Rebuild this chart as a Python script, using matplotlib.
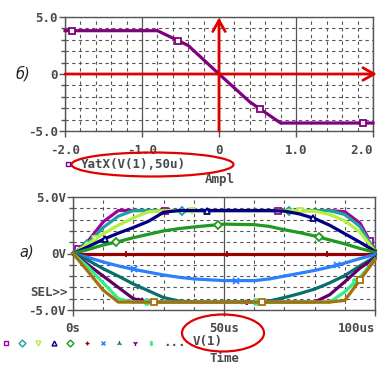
import numpy as np
import matplotlib
matplotlib.use('Agg')
import matplotlib.pyplot as plt
from matplotlib.patches import Ellipse
from matplotlib.ticker import MultipleLocator, FixedLocator

# --- top plot: V(1) at t=50us against the swept amplitude
ampl = [-2.0, -1.6, -1.2, -0.8, -0.4, 0.0, 0.4, 0.8, 1.2, 1.6, 2.0]
yatx = [3.8, 3.8, 3.8, 3.8, 2.5, 0.0, -2.45, -4.3, -4.3, -4.3, -4.3]
yatx_marks = [-1.91, -0.53, 0.53, 1.87]

# --- bottom plot: V(1) against time, one trace per amplitude step
t_us = [0, 5, 10, 15, 20, 25, 30, 35, 40, 50, 60, 65, 70, 75, 80, 85, 90, 95, 100]
v_m20 = [0, 1.1, 2.8, 3.8, 3.8, 3.8, 3.8, 3.8, 3.8, 3.8, 3.8, 3.8, 3.8, 3.8, 3.8, 3.8, 3.7, 2.7, 0.3]
v_m16 = [0, 0.95, 2.3, 3.3, 3.8, 3.8, 3.8, 3.8, 3.8, 3.8, 3.8, 3.8, 3.8, 3.8, 3.8, 3.8, 3.45, 2.4, 0.25]
v_m12 = [0, 0.85, 1.75, 2.5, 3.15, 3.7, 3.8, 3.8, 3.8, 3.8, 3.8, 3.8, 3.8, 3.8, 3.75, 3.45, 2.9, 1.9, 0.2]
v_m08 = [0, 0.6, 1.25, 1.8, 2.3, 2.85, 3.65, 3.8, 3.8, 3.8, 3.8, 3.8, 3.75, 3.5, 3.1, 2.5, 1.75, 1.0, 0.2]
v_m04 = [0, 0.35, 0.75, 1.05, 1.4, 1.7, 2.0, 2.2, 2.35, 2.6, 2.55, 2.4, 2.1, 1.85, 1.55, 1.2, 0.85, 0.45, 0.1]
v_000 = [0, 0, 0, 0, 0, 0, 0, 0, 0, 0, 0, 0, 0, 0, 0, 0, 0, 0, 0]
v_p04 = [0, -0.35, -0.75, -1.1, -1.4, -1.65, -1.9, -2.1, -2.25, -2.4, -2.4, -2.25, -2.0, -1.75, -1.5, -1.2, -0.85, -0.45, -0.1]
v_p08 = [0, -0.6, -1.35, -2.0, -2.7, -3.3, -3.9, -4.2, -4.3, -4.3, -4.3, -4.2, -3.9, -3.55, -3.15, -2.6, -1.95, -1.1, -0.3]
v_p12 = [0, -1.0, -2.0, -3.0, -4.0, -4.3, -4.3, -4.3, -4.3, -4.3, -4.3, -4.3, -4.3, -4.3, -4.3, -3.65, -2.5, -1.3, -0.4]
v_p16 = [0, -1.2, -2.6, -4.0, -4.3, -4.3, -4.3, -4.3, -4.3, -4.3, -4.3, -4.3, -4.3, -4.3, -4.3, -4.3, -3.4, -2.1, -0.5]
v_p20 = [0, -1.6, -3.25, -4.3, -4.3, -4.3, -4.3, -4.3, -4.3, -4.3, -4.3, -4.3, -4.3, -4.3, -4.3, -4.3, -4.15, -2.35, -0.55]

traces = [v_m20, v_m16, v_m12, v_m08, v_m04, v_000, v_p04, v_p08, v_p12, v_p16, v_p20]
colors = ['#a000a0', '#1fa0a0', '#b4f03c', '#000080', '#1f991f', '#990000',
          '#2a80ff', '#0b6e6e', '#600068', '#33ee88', '#a8700c']
marks = ['s', 'D', 'v', '^', 'D', '+', 'x', '2', '1', r'$\ddag$', 's']
mark_t = [[1.8, 30.5, 68, 98.3], [4.5, 36, 71.6], [7.3, 39.5, 75.2], [10.6, 44.3, 79.6],
          [14.4, 48.1, 81.6], [17.5, 51, 84], [20.2, 54, 87.3], [22, 56.2, 90],
          [22.2, 57.7, 91.2], [24.4, 60.6, 93.4], [26.8, 62.5, 95]]

W, H = 391, 368
gc = '#555555'
red = '#e00000'
plt.rcParams['font.family'] = 'DejaVu Sans Mono'
plt.rcParams['font.weight'] = 'bold'
plt.rcParams['font.size'] = 9

fig = plt.figure(figsize=(W / 100, H / 100), dpi=100)


def box(l, t, r, b):
    return [l / W, 1 - b / H, (r - l) / W, (b - t) / H]


def style(ax, xmin_step):
    ax.xaxis.set_minor_locator(MultipleLocator(xmin_step))
    ax.yaxis.set_major_locator(FixedLocator([-5, 0, 5]))
    ax.yaxis.set_minor_locator(MultipleLocator(1))
    ax.grid(which='major', axis='x', color=gc, lw=0.9, ls='-')
    ax.grid(which='minor', axis='both', color=gc, lw=0.8, ls=(0, (3, 3)))
    ax.grid(which='major', axis='y', color=gc, lw=0.8, ls=(0, (3, 3)))
    ax.set_axisbelow(True)
    for s in ax.spines.values():
        s.set_color(gc)
        s.set_linewidth(1)
    ax.tick_params(which='both', direction='out', color=gc, labelcolor='#4a4a4a', width=1)
    ax.tick_params(axis='y', which='major', length=4, pad=1)
    ax.tick_params(axis='y', which='minor', length=3)
    ax.tick_params(axis='x', which='major', length=4, pad=5)
    ax.tick_params(axis='x', which='minor', length=0)
    ax.set_ylim(-5, 5)


# top plot
ax1 = fig.add_axes(box(65, 17, 373, 131))
ax1.set_xlim(-2, 2)
ax1.xaxis.set_major_locator(FixedLocator([-2, -1, 0, 1, 2]))
style(ax1, 0.2)
ax1.set_xticklabels(['-2.0', '-1.0', '0', '1.0', '2.0'])
ax1.set_yticklabels(['-5.0', '0', '5.0'])
ax1.get_xticklabels()[-1].set_horizontalalignment('right')
ax1.plot(ampl, yatx, color='#800080', lw=2.3, zorder=3, clip_on=False)
ax1.plot(yatx_marks, np.interp(yatx_marks, ampl, yatx), 's', mfc='white', mec='#800080',
         ms=4.5, mew=1.3, zorder=3, clip_on=False)
arrow = dict(arrowstyle='->,head_length=0.8,head_width=0.45', color=red, lw=2,
             shrinkA=0, shrinkB=0, mutation_scale=10)
ax1.annotate('', xy=(2.05, 0), xytext=(-2.0, 0), arrowprops=arrow, annotation_clip=False, zorder=4)
ax1.annotate('', xy=(0, 4.95), xytext=(0, -5.0), arrowprops=arrow, annotation_clip=False, zorder=4)

# bottom plot
ax2 = fig.add_axes(box(73, 197, 375, 310))
ax2.set_xlim(0, 100)
ax2.xaxis.set_major_locator(FixedLocator([0, 50, 100]))
style(ax2, 10)
ax2.set_xticklabels(['0s', '50us', '100us'])
ax2.set_yticklabels(['-5.0V', '0V', '5.0V'])
ax2.get_xticklabels()[-1].set_horizontalalignment('right')
for i, (v, c, m, mt) in enumerate(zip(traces, colors, marks, mark_t)):
    ax2.plot(t_us, v, color=c, lw=2.3, zorder=3 + i * 0.01, clip_on=False)
    ax2.plot(mt, np.interp(mt, t_us, v), ls='none', marker=m, mfc='white', mec=c,
             color=c, ms=4.5, mew=1.3, zorder=3 + i * 0.01, clip_on=False)

# labels, legend row and red ellipses in pixel coordinates
ov = fig.add_axes([0, 0, 1, 1], zorder=10)
ov.set_xlim(0, W)
ov.set_ylim(H, 0)
ov.axis('off')
ov.patch.set_alpha(0)

ov.text(16, 74, 'б)', family='DejaVu Sans', weight='normal', style='italic',
        fontsize=10.5, va='center', color='#222222')
ov.text(19, 252, 'a)', family='DejaVu Sans', weight='normal', style='italic',
        fontsize=10.5, va='center', color='#222222')
ov.plot([68], [164], 's', mfc='white', mec='#800080', ms=3, mew=1)
ov.text(81, 164, 'YatX(V(1),50u)', va='center', ha='left', color='#4a4a4a')
ov.text(220, 179, 'Ampl', va='center', ha='center', color='#4a4a4a')
ov.add_patch(Ellipse((152.5, 164.5), 162, 24, fill=False, ec=red, lw=1.6))
ov.text(68, 293, 'SEL>>', va='center', ha='right', color='#4a4a4a')

for i, (c, m) in enumerate(zip(colors[:10], marks[:10])):
    ov.plot([6 + 16.1 * i], [343], ls='none', marker=m, mfc='white', mec=c, color=c,
            ms=3.5, mew=1)
ov.text(163, 343, '...', va='center', ha='left', color='#4a4a4a')
ov.text(193, 342, 'V(1)', va='center', ha='left', color='#4a4a4a')
ov.text(225, 358, 'Time', va='center', ha='center', color='#4a4a4a')
ov.add_patch(Ellipse((223, 333), 82, 37, fill=False, ec=red, lw=1.6))

fig.savefig('out.png', dpi=100)
